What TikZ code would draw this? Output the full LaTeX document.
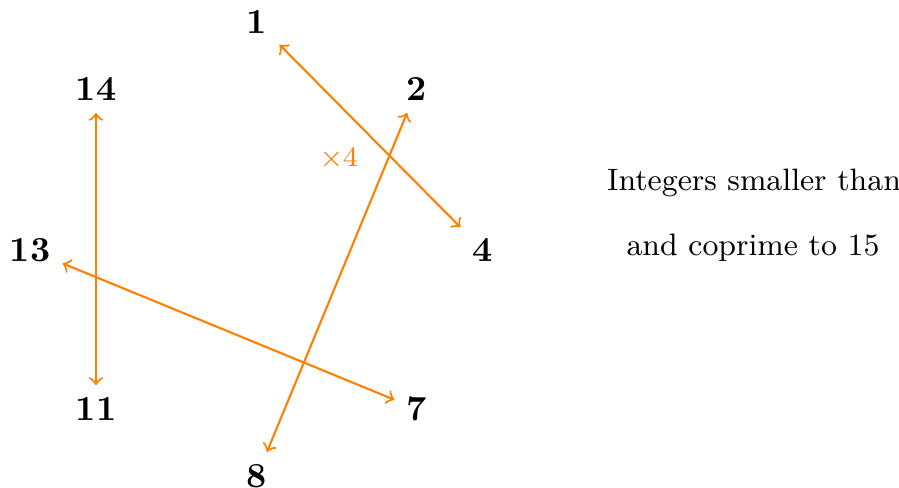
\documentclass[tikz,border=0pt]{standalone}
\usetikzlibrary{arrows}
\begin{document}
\begin{tikzpicture}[x=0.01cm,y=-0.01cm,
  num/.style={font=\bfseries},
  link/.style={orange,semithick,<->},
  lab/.style={orange,font=\fontsize{8.5}{10}\selectfont},
  txt/.style={font=\fontsize{8.8}{10}\selectfont}]
\useasboundingbox (0,0) rectangle (899,488);
\node[num] (n1) at (257,22) {1};
\node[num] (n2) at (417,89) {2};
\node[num] (n4) at (483,250) {4};
\node[num] (n7) at (417,409) {7};
\node[num] (n8) at (257,476) {8};
\node[num] (n11) at (96,409) {11};
\node[num] (n13) at (30,250) {13};
\node[num] (n14) at (96,89) {14};
\draw[link] (n1) -- (n4);
\draw[link] (n2) -- (n8);
\draw[link] (n13) -- (n7);
\draw[link] (n14) -- (n11);
\node[lab] (x4) at (339,159) {$\times 4$};
\node[txt] (t1) at (754,183) {Integers smaller than};
\node[txt] (t2) at (753,248) {and coprime to 15};
\end{tikzpicture}
\end{document}
